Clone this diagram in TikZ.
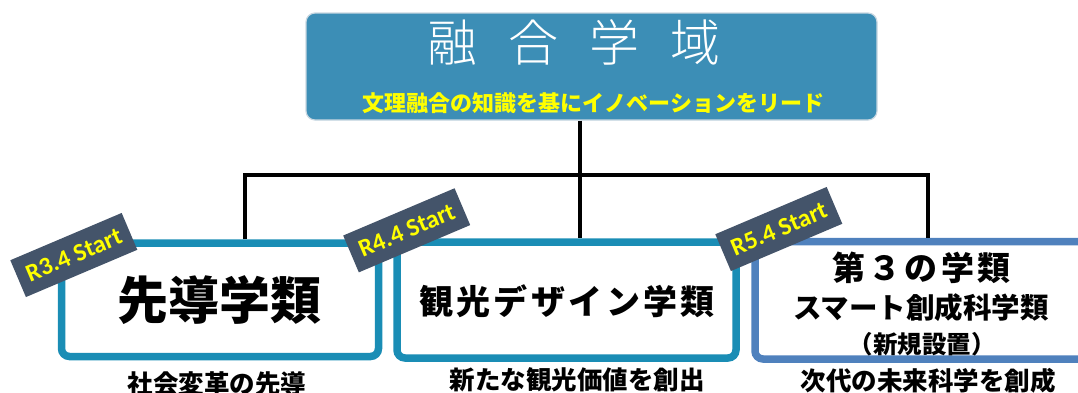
\documentclass[tikz,border=0pt]{standalone}
\usepackage{fontspec}
\newfontfamily\jp{Noto Sans CJK JP}
\newfontfamily\jplight{Noto Sans CJK JP Light}
\newfontfamily\tagfont{Carlito}
\definecolor{topfill}{HTML}{3C8EB6}
\definecolor{topedge}{HTML}{C9D7E1}
\definecolor{tealedge}{HTML}{1A8DB5}
\definecolor{blueedge}{HTML}{4F81BD}
\definecolor{tagfill}{HTML}{44546A}
\definecolor{yel}{HTML}{FFFF00}
\begin{document}
\begin{tikzpicture}[x=1pt,y=-1pt,
  topbox/.style={draw=topedge,line width=1.2pt,fill=topfill,rounded corners=9pt,inner sep=0pt},
  classbox/.style={draw=tealedge,line width=7.5pt,fill=white,rounded corners=8pt,inner sep=0pt},
  tagbox/.style={fill=tagfill,minimum width=121pt,minimum height=40pt,inner sep=0pt,rotate=23,
     text=yel,font=\tagfont\bfseries\fontsize{25}{25}\selectfont},
  conn/.style={draw=black,line width=4pt},
  lbl/.style={inner sep=0pt,font=\jp\bfseries\fontsize{25.5}{25.5}\selectfont}]
\useasboundingbox (0,0) rectangle (1078,392);
% top box
\node[topbox,minimum width=571pt,minimum height=107pt] (top) at (591.5,66.5) {};
\node[inner sep=0pt,text=white,font=\jplight\fontsize{50}{50}\selectfont] (title) at (574,42)
  {融\hspace{31pt}合\hspace{31pt}学\hspace{31pt}域};
\node[inner sep=0pt,text=yel,font=\jp\bfseries\fontsize{22}{22}\selectfont] (sub) at (593.5,103)
  {文理融合の知識を基にイノベーションをリード};
% boxes
\node[classbox,minimum width=317pt,minimum height=113.5pt] (b1) at (220,299.75) {};
\node[classbox,minimum width=339pt,minimum height=116pt] (b2) at (566.5,300) {};
\node[classbox,draw=blueedge,minimum width=335pt,minimum height=117.5pt] (b3) at (922.5,300.25) {};
% connectors
\coordinate (hub) at (580,175);
\coordinate (j1) at (245,175);
\coordinate (j3) at (928,175);
\draw[conn] (top.south -| hub) -- (hub);
\draw[conn] (b1.north -| j1) -- (j1) -- (j3) -- (b3.north -| j3);
\draw[conn] (hub) -- (b2.north -| hub);
% box texts
\node[inner sep=0pt,font=\jp\bfseries\fontsize{51}{51}\selectfont] (t1) at (219.5,300) {先導学類};
\node[inner sep=0pt,font=\jp\bfseries\addfontfeature{LetterSpace=10}\fontsize{34}{34}\selectfont] (t2) at (567,301) {観光デザイン学類};
\node[inner sep=0pt,font=\jp\bfseries\addfontfeature{LetterSpace=10}\fontsize{33}{33}\selectfont] (t3a) at (921.5,268) {第３の学類};
\node[inner sep=0pt,font=\jp\bfseries\fontsize{28.5}{28.5}\selectfont] (t3b) at (921,308) {スマート創成科学類};
\node[inner sep=0pt,font=\jp\bfseries\fontsize{24.5}{24.5}\selectfont] (t3c) at (922,344) {（新規設置）};
% labels below
\node[lbl] (l1) at (217,384) {社会変革の先導};
\node[lbl] (l2) at (577,380) {新たな観光価値を創出};
\node[lbl] (l3) at (928,381) {次代の未来科学を創成};
% tags
\node[tagbox] (tag1) at (73.8,255) {R3.4 Start};
\node[tagbox] (tag2) at (406.7,230.3) {R4.4 Start};
\node[tagbox] (tag3) at (778.8,229) {R5.4 Start};
\end{tikzpicture}
\end{document}
